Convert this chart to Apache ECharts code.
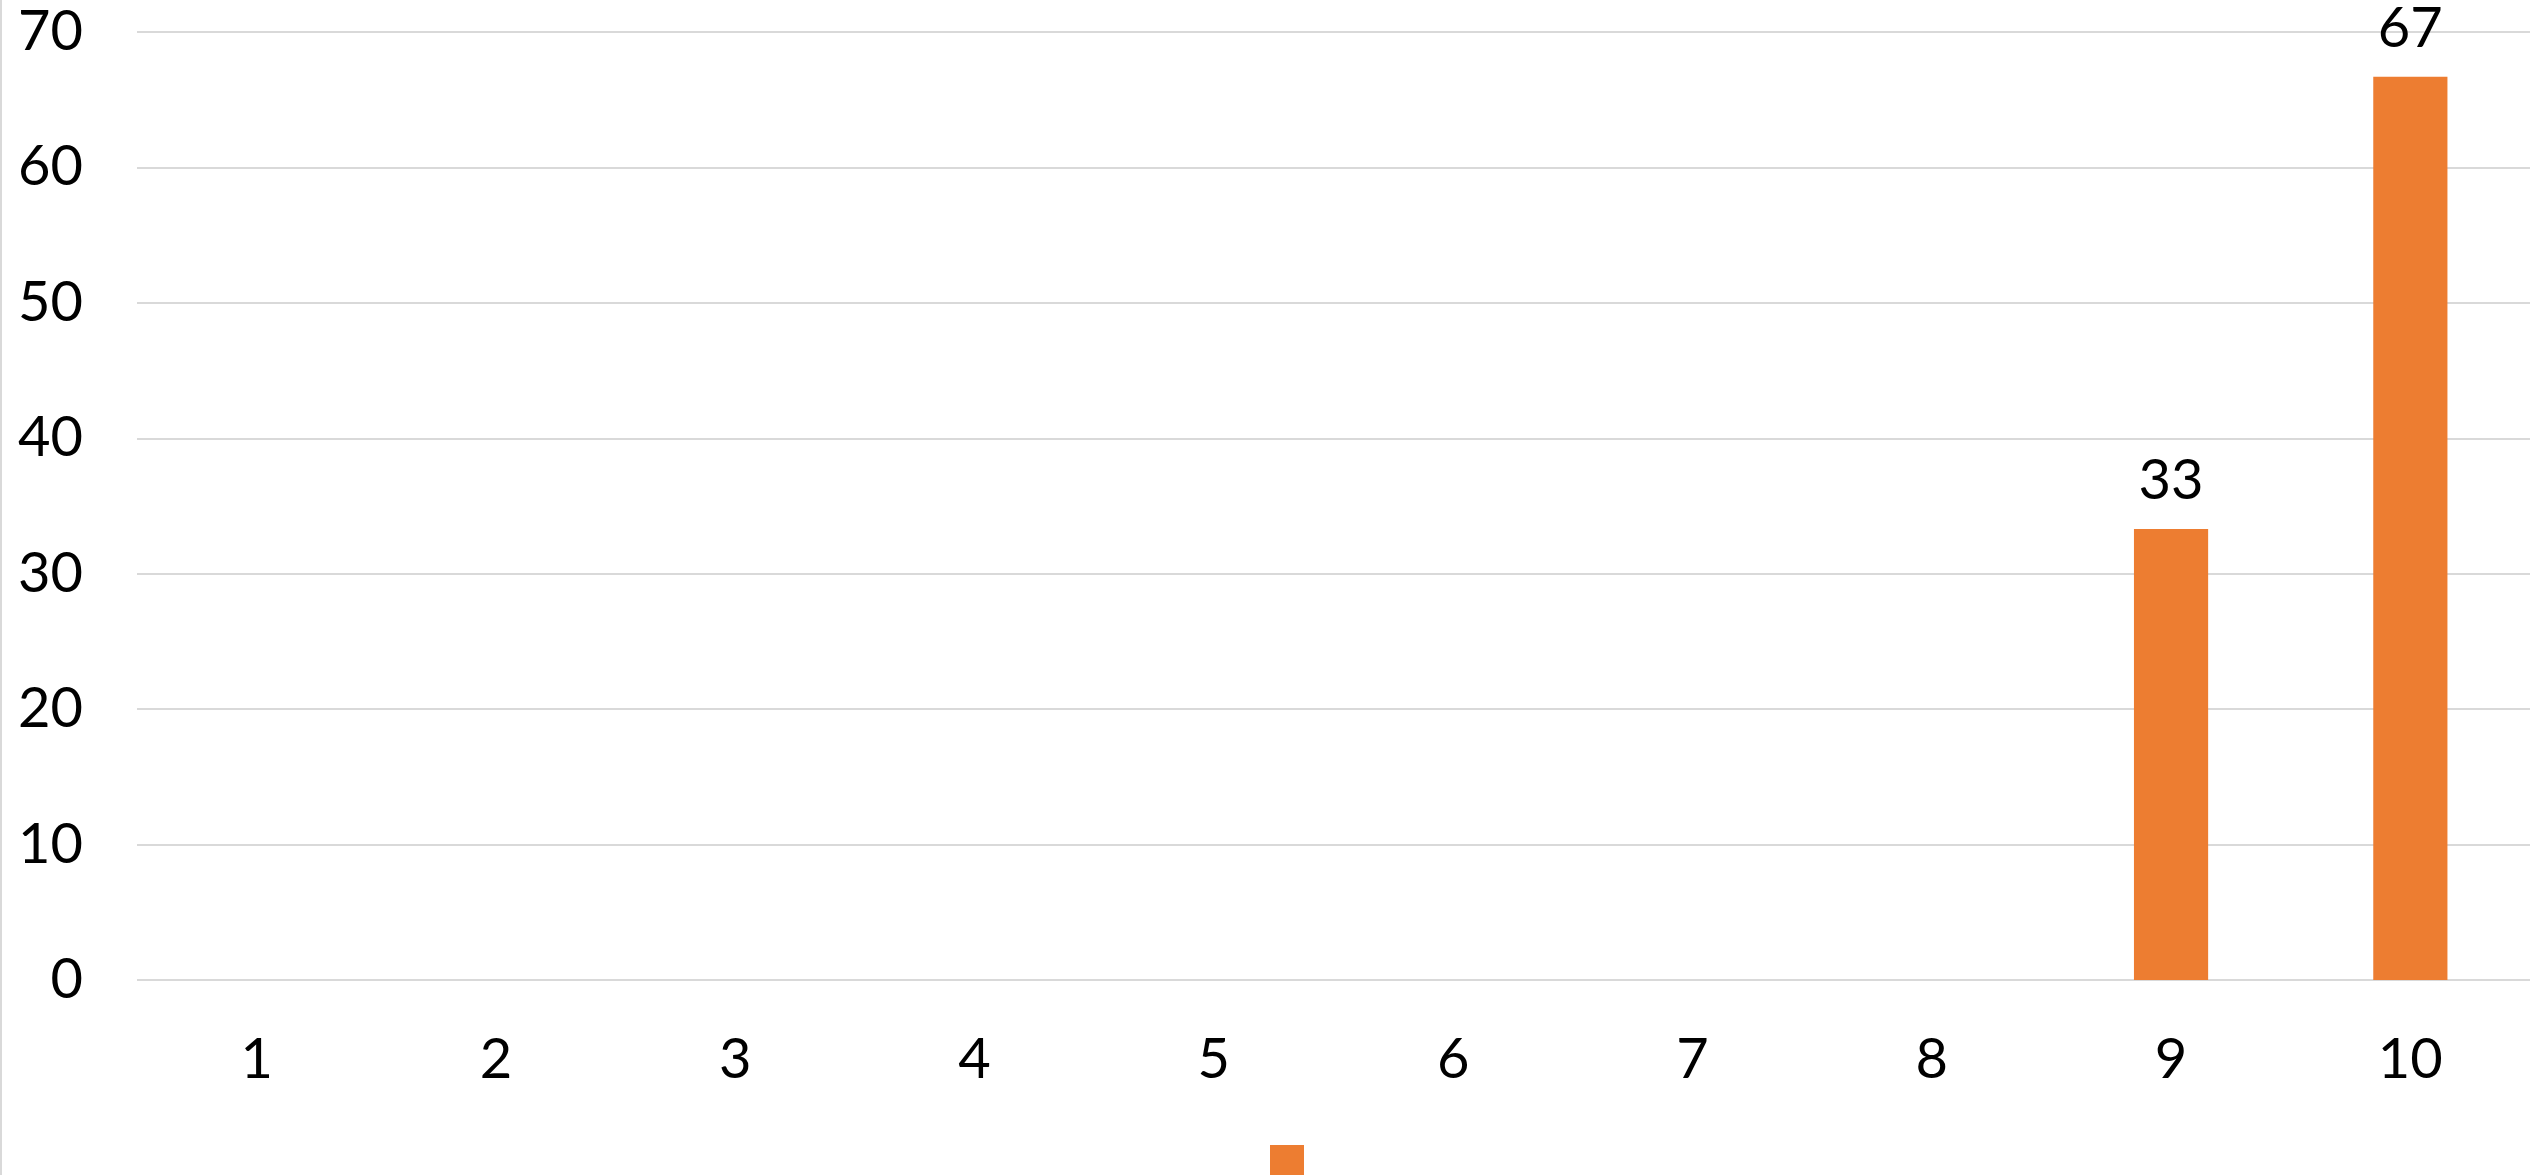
<!DOCTYPE html>
<html>
<head>
<meta charset="utf-8">
<script src="https://cdn.jsdelivr.net/npm/echarts@6/dist/echarts.min.js"></script>
<style>
  html, body { margin: 0; padding: 0; background: #fff; }
  #chart { width: 2539px; height: 1175px; border-left: 2px solid #d9d9d9; box-sizing: border-box; }
</style>
</head>
<body>
<div id="chart"></div>
<script>
// 类目与数值（1-8 为空）
const categories = ['1', '2', '3', '4', '5', '6', '7', '8', '9', '10'];
const values = [null, null, null, null, null, null, null, null, 33.3, 66.7];
const yTicks = { min: 0, max: 70, step: 10 };

const chart = echarts.init(document.getElementById('chart'));
const font = 'Lato, "Open Sans", sans-serif';

const option = {
  animation: false,
  textStyle: { fontFamily: font },
  grid: { left: 135, right: 9, top: 32, bottom: 195 },
  legend: {
    left: 1263, top: 1140,
    itemWidth: 34, itemHeight: 34,
    icon: 'rect',
    textStyle: { fontSize: 1, color: '#fff' },
    data: [' ']
  },
  xAxis: {
    type: 'category',
    data: categories,
    axisLine: { show: false },
    axisTick: { show: false },
    axisLabel: { color: '#000', fontSize: 56, fontFamily: font, margin: 52 }
  },
  yAxis: {
    type: 'value',
    min: yTicks.min, max: yTicks.max, interval: yTicks.step,
    axisLine: { show: false },
    axisTick: { show: false },
    axisLabel: { color: '#000', fontSize: 56, fontFamily: font, margin: 54 },
    splitLine: { lineStyle: { color: '#d9d9d9', width: 2 } }
  },
  series: [
    {
      name: ' ',
      type: 'bar',
      data: values,
      barWidth: '31%',
      itemStyle: { color: '#ED7D31' },
      label: {
        show: true,
        position: 'top',
        distance: 20,
        color: '#000',
        fontSize: 56,
        fontFamily: font,
        formatter: p => Math.round(p.value)
      }
    }
  ]
};
chart.setOption(option);
</script>
</body>
</html>
